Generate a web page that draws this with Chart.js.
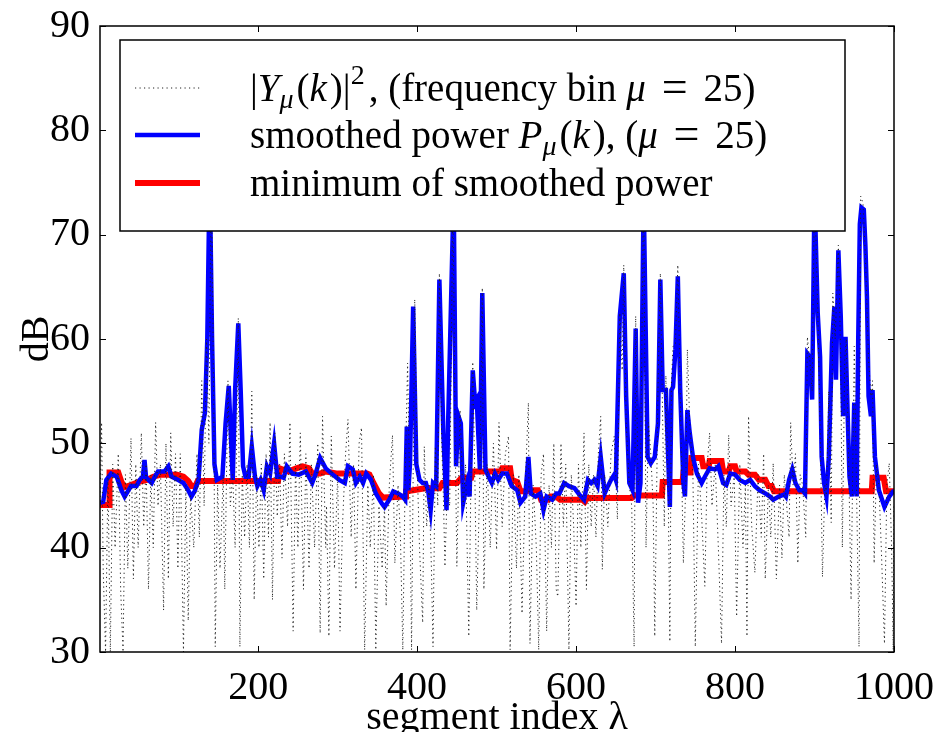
<!DOCTYPE html>
<html>
<head>
<meta charset="utf-8">
<script src="https://cdn.jsdelivr.net/npm/chart.js@4.4.1/dist/chart.umd.min.js"></script>
<style>
  html, body { margin: 0; padding: 0; background: #fff; }
  #wrap { width: 937px; height: 732px; }
</style>
</head>
<body>
<div id="wrap"><canvas id="c" width="937" height="732"></canvas></div>
<script>
// [segment index, dB]
const noisePts = [
  [1,44],[3,52],[5,38],[8,30],[11,47],[14,30],[17,48],[20,40],[24,49],[27,36],[30,30],[33,47],[36,38],[40,50.5],
  [43,37],[46,48],[49,40],[53,51],[56,42],[59,48],[62,36],[65,47],[68,40],[71,52],[74,44],[77,48],[81,34],[84,50],
  [87,37],[90,51],[93,42],[96,49],[99,38],[102,49],[106,30],[109,46],[112,33],[115,45],[119,40],[123,49],[126,41],
  [129,56],[132,44],[135,60],[138,50],[141,76],[144,55],[146,30.5],[149,46],[152,38],[156,47],[158,36],[162,56],
  [165,44],[168,47],[171,40],[175,62],[177,30.5],[180,47],[183,41],[186,48],[189,40],[192,55],[195,35],[198,47],
  [201,40],[204,48],[207,37],[210,49],[213,41],[215,52],[218,35],[221,51],[224,43],[227,48],[230,39],[233,49],
  [237,42],[240,52],[244,32],[247,48],[250,40],[253,51],[257,36],[260,49],[264,38],[267,48],[271,40],[275,50],
  [278,31.8],[281,52.6],[285,40],
  [286,44],[289,31.5],[292,50.7],[296,38],[300,47],[303,32],[306,42],[310,49],[313,52.3],[317,41],[320,48],[323,36],
  [327,50],[330,51.5],[334,30.2],[338,46],[341,40],[345,47],[348,30.2],[352,44],[356,38],[359,44],[361,34.4],[365,46],
  [369,50.8],[372,38.5],[376,46],[379,41],[382,30.2],[385,47],[388,57.7],[391,44],[393,30.2],[397,63.8],[400,48],
  [403,40],[407,32.8],[409,49.7],[412,42],[415,46],[418,38],[420,30.5],[423,49.7],[426,44],[428,66.3],[431,50],
  [433,45],[435,38.2],[438,46],[441,44],[445,74],[448,50],[450,38.2],[454,53.2],[458,44],[461,48],[465,31.5],[468,48],
  [470,57.8],[473,45],[475,34],[479,47],[482,64.9],[484,36],[488,48],[492,40],[496,50],[500,39.8],[503,52],[507,42],
  [511,49],[515,50.7],[517,30.2],[521,47],[525,38],[528,47],[532,33.7],[536,46],[540,53.9],[542,30.8],[546,46],
  [550,40],[553,30.2],[556,47],[559,49],[563,32],[566,46],[569,40],[572,50],[575,36],
  [577,35.3],[581,50],[584,42],[587,48],[591,30.2],[594,47],[597,42],[600,34.4],[603,48],[606,40],[610,51],[613,36],
  [616,48],[619,42],[622,47],[625,41],[628,49],[631,52.6],[633,37.9],[636,47],[640,42],[644,49],[648,50.7],[652,42.7],
  [655,62.5],[658,57],[660,67.1],[663,52],[667,46],[670,44],[673,30.5],[675,62.2],[678,46],[681,47],[685,75],[688,40],
  [691,52],[694,49],[697,44],[699,31.5],[703,55],[706,66.3],[709,52],[711,42],[713,56.5],[716,45],
  [718,31],[720,56],[722,59.3],[725,59.5],[728,67.1],[731,55],[735,38.5],[738,46],[740,59],[743,52],[747,47],
  [750,30.5],[754,48],[758,43],[762,36.3],[765,48],[768,51],[771,44],[775,48],[779,40],[783,30.8],[786,47],[789,42],
  [792,50.8],[795,44],[799,47],[802,33.4],[806,48],[810,40],[813,46],[815,31.5],[817,52.6],[821,42],[825,37.6],
  [829,47],[833,41],[836,49],[838,37],[842,46],[845,41],[848,48.1],[852,37],[856,46],[859,39],[862,47],
  [865,44],[868,41],[870,52],[873,46],[876,49],[879,38.5],[882,47],[885,46],[889,41],[891,60.2],[894,58],[897,55],
  [900,75],[904,63],[907,52],[910,37.2],[913,46],[915,45],[918,55],[921,42.4],[923,64.4],[926,60],[930,69],[933,58],
  [935,40],[938,58],[940,60],[943,48],[946,35],[950,59.3],[953,45],[956,30.5],[958,73.7],[961,73],[964,68],[968,58],
  [971,54.5],[973,56],[975,38.5],[978,48],[981,46],[984,40],[988,30.8],[991,46],[994,48.1],[997,40],[999,30.2],[1000,44]
];

const smoothPts = [
  [1,44.3],[5,44.4],[9,46.5],[15,47.1],[22,46.8],[28,45.5],[32,44.9],[36,45.4],[40,45.9],[47,45.9],[51,46.5],
  [55,46.8],[57,48.4],[59,46.7],[66,46.2],[70,46.8],[74,47.3],[82,47.3],[87,47.8],[91,46.8],[99,46.5],[106,46.2],
  [112,45.5],[116,44.9],[120,45.4],[125,46.5],[129,51.3],[133,52.9],[136,60],[139,76],[142,60],[145,48],
  [148,46.5],[155,46.8],[159,51.9],[163,55.5],[165,51.9],[168,46.5],[171,55.1],[175,61.5],[178,55.1],[181,47.8],
  [184,46.8],[188,46.8],[192,49.7],[196,46.8],[199,45.9],[203,46.5],[207,45.5],[211,47.8],[215,47.1],[220,50.0],
  [224,46.8],[228,46.8],[232,46.7],[236,47.8],[243,47.1],[251,47.0],[260,47.3],[268,46.2],[272,47.0],[278,48.6],
  [285,47.6],[294,47.0],[302,46.5],[309,46.2],[313,47.8],[319,47.5],[323,46.2],[328,46.8],[332,46.2],[336,47.1],
  [342,46.5],[348,45.2],[355,44.3],[359,43.9],[365,44.6],[370,45.4],[376,45.2],[382,44.9],[385,44.6],[387,51.6],
  [389,45.5],[391,48],[395,63.1],[399,48],[403,46.5],[407,46.2],[411,46.2],[414,45.4],[417,43.6],[420,46.2],
  [424,45.9],[428,65.7],[433,51],[437,43.6],[439,51.9],[446,74],[449,47.8],[452,52.6],[455,51.9],[458,44.3],
  [463,46.2],[466,44.9],[470,57.0],[473,53.9],[475,54.2],[479,47.5],[482,64.4],[486,47.5],[490,46.8],[494,46.2],
  [498,47.1],[502,46.5],[507,47.1],[513,47.1],[519,45.9],[526,45.5],[530,44.3],[536,44.9],[540,48.7],[543,45.2],
  [549,44.9],[555,45.2],[559,43.6],[563,44.9],[570,44.6],[575,45.2],[579,45.2],[585,46.2],[591,45.9],[598,45.7],
  [604,45.1],[610,44.6],[615,46.5],[619,46.2],[623,46.5],[627,45.9],[631,48.7],[636,45.2],[640,45.9],[644,46.5],
  [648,47.0],[650,46.5],[655,62.2],[660,66.3],[663,54.5],[667,46.2],[671,45.5],[675,61.0],[678,44.3],[681,46.2],
  [685,74],[690,48.7],[694,48.1],[699,48.7],[703,51.9],[706,65.7],[709,55.1],[713,55.1],[717,46.2],[718,43.9],
  [720,55.1],[722,55.4],[725,59.0],[728,66.0],[731,55.1],[735,46.2],[737,44.9],[740,53.2],[743,51],[747,48.7],
  [752,47.1],[758,46.2],[762,46.8],[768,47.6],[775,47.5],[779,47.8],[785,46.2],[789,46.0],[794,47.1],[800,47.0],
  [806,46.5],[813,46.2],[819,46.5],[825,45.9],[831,45.5],[838,45.2],[844,44.9],[848,44.6],[855,44.9],[862,45.1],
  [864,44.9],[868,46.5],[872,47.5],[876,46.2],[881,45.5],[885,45.5],[888,45.2],[891,58.6],[894,58.3],[897,54.2],
  [900,74],[904,62.5],[907,58.3],[909,48.7],[912,46.2],[915,44.9],[918,48.7],[922,59.6],[925,63.1],[927,56.1],
  [930,68.5],[933,62.2],[936,52.6],[939,60.2],[942,52],[944,46.8],[947,44.9],[950,53.9],[953,44.9],[955,60],
  [957,71],[959,72.6],[962,72.4],[964,69],[966,64],[968,54.5],[971,52.6],[973,55.1],[976,48.7],[981,45.5],
  [988,43.9],[994,44.9],[1000,45.5]
];

const minPts = [
  [1,44.1],[13,44.1],[13,47.2],[24,47.2],[28,46.3],[32,45.8],[40,46.0],[50,46.3],[60,46.5],[68,46.8],[78,47.0],
  [98,47.0],[106,46.8],[112,46.4],[116,45.9],[121,45.9],[124,46.4],[225,46.4],[227,47.6],[238,47.3],[248,47.6],
  [256,47.8],[264,47.6],[268,47.1],[278,47.1],[285,47.3],[300,47.1],[337,47.1],[340,47.0],[345,46.2],[352,45.2],
  [357,44.8],[385,44.9],[386,45.4],[395,45.5],[410,45.7],[428,45.7],[432,46.2],[450,46.2],[456,46.7],[468,46.7],
  [470,47.3],[505,47.3],[507,47.6],[517,47.6],[519,46.5],[526,46.3],[530,45.4],[538,45.4],[541,45.5],[552,45.5],
  [556,44.6],[565,44.6],[568,44.9],[575,44.9],[580,44.6],[608,44.6],[611,44.4],[614,44.75],[670,44.75],[673,45.0],
  [708,45.0],[709,46.3],[734,46.3],[735,47.2],[744,47.2],[745,48.6],[758,48.6],[760,47.8],[767,47.8],[768,48.3],
  [783,48.3],[785,47.3],[792,47.3],[794,47.8],[800,47.8],[802,47.3],[813,47.3],[817,47.0],[825,47.0],[830,46.5],
  [838,46.5],[842,45.9],[846,45.9],[849,45.4],[972,45.4],[973,46.7],[987,46.7],[990,45.4],[1000,45.4]
];

const xTicks = [200, 400, 600, 800, 1000];
const yTicks = [30, 40, 50, 60, 70, 80, 90];

const SERIF = '"Liberation Serif", "DejaVu Serif", serif';
const toXY = pts => pts.map(p => ({ x: p[0], y: p[1] }));

// legend text runs: [text, kind]  kind: n normal, i italic, s italic subscript, p superscript, e big sign, g gap (px)
const legendRows = [
  { key: 'noise', runs: [['|','n'],['Y','i'],['μ','s'],[3,'g'],['(','n'],['k','i'],[3,'g'],[')|','n'],['2','p'],
                         [4,'g'],[', (frequency bin ','n'],['μ','i'],[' ','n'],[6,'g'],['=','e'],[6,'g'],[' 25)','n']] },
  { key: 'smooth', runs: [['smoothed power ','n'],['P','i'],['μ','s'],[3,'g'],['(','n'],['k','i'],[3,'g'],[')','n'],
                          [', (','n'],['μ','i'],[' ','n'],[6,'g'],['=','e'],[6,'g'],[' 25)','n']] },
  { key: 'min', runs: [['minimum of smoothed power','n']] }
];

// keep tick labels from pushing the plot area around
function fixBox(s, size) {
  if (s.isHorizontal()) s.height = size; else s.width = size;
  s.paddingLeft = s.paddingRight = s.paddingTop = s.paddingBottom = 0;
}

const frame = {
  id: 'frame',
  afterDatasetsDraw(chart) {
    const { ctx, chartArea: a, scales: { x, y } } = chart;
    ctx.save();
    ctx.strokeStyle = '#000';
    ctx.lineWidth = 1;
    ctx.beginPath();
    x.ticks.forEach(t => {
      const px = Math.round(x.getPixelForValue(t.value)) + 0.5;
      ctx.moveTo(px, a.bottom); ctx.lineTo(px, a.bottom - 6);
      ctx.moveTo(px, a.top); ctx.lineTo(px, a.top + 6);
    });
    y.ticks.forEach(t => {
      const py = Math.round(y.getPixelForValue(t.value)) + 0.5;
      ctx.moveTo(a.left, py); ctx.lineTo(a.left + 6, py);
      ctx.moveTo(a.right, py); ctx.lineTo(a.right - 6, py);
    });
    ctx.stroke();
    ctx.lineWidth = 1.5;
    ctx.strokeRect(a.left, a.top, a.right - a.left, a.bottom - a.top);
    ctx.restore();
  },
  afterDraw(chart) {
    const { ctx, chartArea: a } = chart;
    ctx.save();
    // axis titles
    ctx.fillStyle = '#000';
    ctx.font = '40px ' + SERIF;
    ctx.textAlign = 'center';
    ctx.textBaseline = 'alphabetic';
    ctx.fillText('segment index λ', (a.left + a.right) / 2, 729);
    ctx.save();
    ctx.translate(48, (a.top + a.bottom) / 2);
    ctx.rotate(-Math.PI / 2);
    ctx.fillText('dB', 0, 0);
    ctx.restore();

    // legend box
    const bx = 120, by = 40, bw = 725, bh = 191;
    ctx.fillStyle = '#fff';
    ctx.fillRect(bx, by, bw, bh);
    ctx.strokeStyle = '#000';
    ctx.lineWidth = 1.5;
    ctx.strokeRect(bx, by, bw, bh);

    const ds = chart.data.datasets;
    const rowY = [88, 135, 183];
    legendRows.forEach((row, i) => {
      const d = ds.find(s => s.key === row.key);
      const cy = rowY[i];
      ctx.save();
      ctx.strokeStyle = d.borderColor;
      ctx.lineWidth = d.borderWidth;
      ctx.setLineDash(d.borderDash || []);
      ctx.beginPath();
      ctx.moveTo(135, cy); ctx.lineTo(200, cy);
      ctx.stroke();
      ctx.restore();

      let x = 250;
      const base = cy + 13;
      ctx.fillStyle = '#000';
      ctx.textAlign = 'left';
      row.runs.forEach(([t, k]) => {
        if (k === 'g') { x += t; return; }
        let size = 39, dy = 0, style = '';
        if (k === 'i') style = 'italic ';
        if (k === 's') { style = 'italic '; size = 28; dy = 7; }
        if (k === 'p') { size = 28; dy = -17; }
        if (k === 'e') { size = 46; dy = 1; }
        ctx.font = style + size + 'px ' + SERIF;
        ctx.fillText(t, x, base + dy);
        x += ctx.measureText(t).width;
      });
    });
    ctx.restore();
  }
};

new Chart(document.getElementById('c'), {
  type: 'line',
  data: {
    datasets: [
      {
        key: 'noise',
        data: toXY(noisePts),
        borderColor: '#222',
        borderWidth: 1,
        borderDash: [1.2, 3.3],
        pointRadius: 0,
        tension: 0
      },
      {
        key: 'smooth',
        data: toXY(smoothPts),
        borderColor: '#0000ff',
        borderWidth: 4.5,
        pointRadius: 0,
        tension: 0
      },
      {
        key: 'min',
        data: toXY(minPts),
        borderColor: '#ff0000',
        borderWidth: 6,
        pointRadius: 0,
        tension: 0
      }
    ]
  },
  options: {
    responsive: false,
    animation: false,
    devicePixelRatio: 1,
    layout: { padding: { top: 26, right: 43, left: 0, bottom: 0 } },
    plugins: { legend: { display: false }, tooltip: { enabled: false } },
    scales: {
      x: {
        type: 'linear',
        min: 1,
        max: 1000,
        afterBuildTicks: s => { s.ticks = xTicks.map(v => ({ value: v })); },
        afterFit: s => fixBox(s, 80),
        grid: { display: false, drawTicks: false },
        border: { display: false },
        ticks: { color: '#000', font: { family: SERIF, size: 40 }, padding: 12, maxRotation: 0,
                 callback: v => String(v) }
      },
      y: {
        type: 'linear',
        min: 30,
        max: 90,
        afterBuildTicks: s => { s.ticks = yTicks.map(v => ({ value: v })); },
        afterFit: s => fixBox(s, 100),
        grid: { display: false, drawTicks: false },
        border: { display: false },
        ticks: { color: '#000', font: { family: SERIF, size: 40 }, padding: 10,
                 callback: v => String(v) }
      }
    }
  },
  plugins: [frame]
});
</script>
</body>
</html>
